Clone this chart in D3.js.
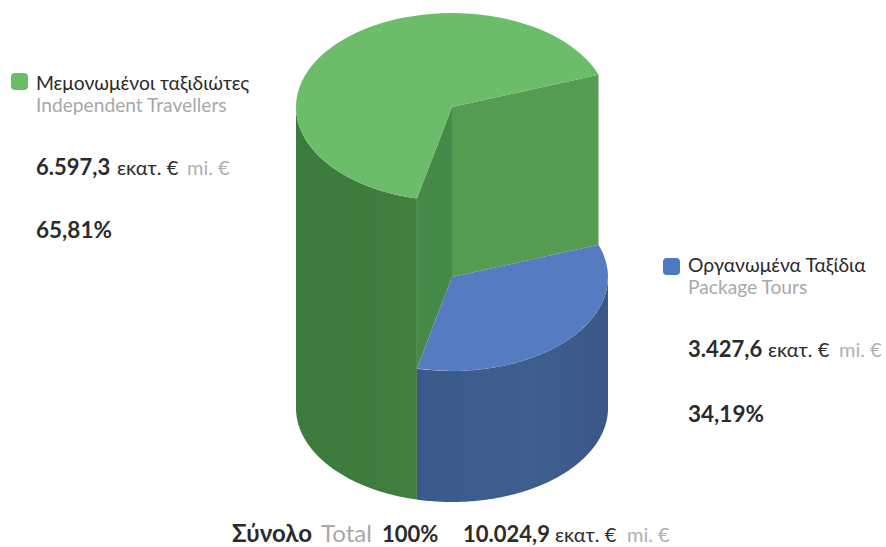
<!DOCTYPE html>
<html><head><meta charset="utf-8">
<script src="https://cdn.jsdelivr.net/npm/d3@7"></script>
<style>
html,body{margin:0;padding:0;background:#fff}
svg{display:block}
text{font-family:Lato,"Noto Sans",sans-serif;fill:#2b2b2b}
</style></head><body>
<svg id="c" width="886" height="547"></svg>
<script>
const categoriesEl = ["Μεμονωμένοι ταξιδιώτες", "Οργανωμένα Ταξίδια"];
const categoriesEn = ["Independent Travellers", "Package Tours"];
const values = [6597.3, 3427.6];
const valueLabels = ["6.597,3", "3.427,6"];
const percentLabels = ["65,81%", "34,19%"];
const unitEl = "εκατ. €";
const unitEn = "mi. €";
const totalEl = "Σύνολο", totalEn = "Total", totalPct = "100%", totalValue = "10.024,9";
const topColors = ["#6bbd69", "#557bc1"];
const markerColors = ["#6bbd69", "#4f78c4"];

const svg = d3.select("#c");
const defs = svg.append("defs");
function grad(id, stops){
  const g = defs.append("linearGradient").attr("id", id).attr("gradientUnits","objectBoundingBox")
    .attr("x1",0).attr("x2",1).attr("y1",0).attr("y2",0);
  stops.forEach(s => g.append("stop").attr("offset", s[0]).attr("stop-color", s[1]));
}
grad("wallG", [[0,"#3d7a3d"],[0.7,"#3f7d3f"],[1,"#42813f"]]);
grad("wallB", [[0,"#3b5a8c"],[0.6,"#3e5e90"],[1,"#3a5788"]]);

const cx = 452, rx = 156, ry = 94;
const yTop = 107, yBlue = 277, yBase = 408;
const x = d3.scaleLinear().domain([-1,1]).range([cx-rx, cx+rx]);
const yS = d3.scaleLinear().domain([-1,1]).range([ry, -ry]);
const pt = (a, y0) => [x(Math.sin(a)), y0 + yS(Math.cos(a))];
const line = d3.line();
const sweep = (a0, a1, y0) => d3.range(0, 121).map(i => pt(a0 + (a1-a0)*i/120, y0));

const startDeg = 193;
const pie = d3.pie().sort(null)
  .startAngle(startDeg*Math.PI/180).endAngle((startDeg+360)*Math.PI/180);
const arcs = pie(values);
const green = arcs[0], blue = arcs[1];
const chart = svg.append("g");

// outer green wall: rim low point round to the left extreme
const gA0 = green.startAngle, gLeft = 1.5*Math.PI;
chart.append("path").attr("fill","url(#wallG)")
  .attr("d", line([...sweep(gA0,gLeft,yTop), ...sweep(gLeft,gA0,yBase)])+"Z");

// inner wall facing blue wedge (right)
const e = pt(green.endAngle, 0), s = pt(gA0, 0);
chart.append("path").attr("fill","#559b52")
  .attr("d", line([[cx,yTop],[e[0],e[1]+yTop],[e[0],e[1]+yBlue],[cx,yBlue]])+"Z");
// inner wall facing front
chart.append("path").attr("fill","#468a4a")
  .attr("d", line([[cx,yTop],[s[0],s[1]+yTop],[s[0],s[1]+yBlue],[cx,yBlue]])+"Z");

// green top
const arcGen = d3.arc().innerRadius(0).outerRadius(rx);
chart.append("path").attr("transform",`translate(${cx},${yTop}) scale(1,${ry/rx})`)
  .attr("fill",topColors[0]).attr("d",arcGen(green));

// blue wall: right extreme round to start of green
const bRight = Math.PI/2;
chart.append("path").attr("fill","url(#wallB)")
  .attr("d", line([...sweep(bRight,gA0,yBlue), ...sweep(gA0,bRight,yBase)])+"Z");
// blue top
chart.append("path").attr("transform",`translate(${cx},${yBlue}) scale(1,${ry/rx})`)
  .attr("fill",topColors[1]).attr("d",arcGen(blue));

// labels
function spans(xp, yp, parts){
  parts.forEach(p => svg.append("text").attr("x",p.x ?? xp).attr("y",yp)
    .attr("font-size",p.size).attr("font-weight",p.w||400)
    .style("fill",p.c||"#2b2b2b").text(p.t));
}
const layout = [
  {mx:11,my:73,ms:17,tx:36,y1:90,y2:112,y3:175,y4:238,unitX:117,enX:187},
  {mx:663,my:258,ms:17,tx:688,y1:272,y2:294,y3:357,y4:422,unitX:768,enX:839}
];
layout.forEach((l,i)=>{
  svg.append("rect").attr("x",l.mx).attr("y",l.my).attr("width",l.ms).attr("height",l.ms)
    .attr("rx",4).attr("fill",markerColors[i]);
  spans(l.tx,l.y1,[{t:categoriesEl[i],size:19.3}]);
  spans(l.tx,l.y2,[{t:categoriesEn[i],size:19.2,c:"#a8a8a8"}]);
  spans(l.tx,l.y3,[{t:valueLabels[i],size:22,w:700},{t:unitEl,size:20,x:l.unitX},{t:unitEn,size:20,x:l.enX,c:"#b0b0b0"}]);
  spans(l.tx,l.y4,[{t:percentLabels[i],size:22.5,w:700}]);
});
spans(232,542,[
  {t:totalEl,size:24,w:700,x:232},
  {t:totalEn,size:24,w:400,x:321,c:"#a8a8a8"},
  {t:totalPct,size:22,w:700,x:382},
  {t:totalValue,size:22,w:700,x:463},
  {t:unitEl,size:20,x:555},
  {t:unitEn,size:20,x:627,c:"#b0b0b0"}
]);
</script>
</body></html>
